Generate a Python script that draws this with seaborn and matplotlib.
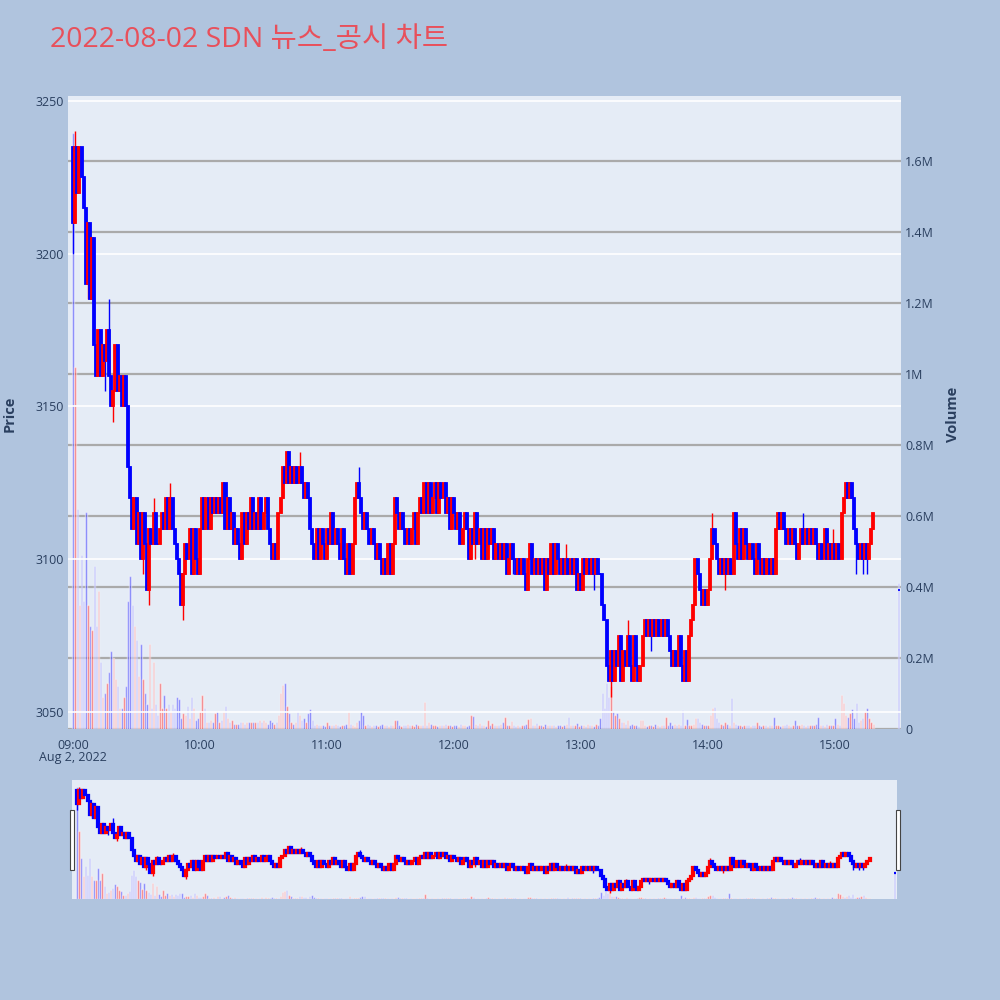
import numpy as np
import pandas as pd
import seaborn as sns
import matplotlib.pyplot as plt
from matplotlib.patches import Rectangle

# minute-by-minute prices, 09:00 = minute 0
first_open = 3235
closes = [
    3210, 3235, 3220, 3235, 3225, 3215, 3190, 3210, 3185, 3205,
    3170, 3160, 3175, 3160, 3170, 3165, 3175, 3160, 3150, 3155,
    3170, 3155, 3160, 3150, 3160, 3150, 3130, 3120, 3110, 3120,
    3105, 3115, 3100, 3115, 3105, 3090, 3110, 3105, 3115, 3105,
    3105, 3110, 3115, 3110, 3120, 3110, 3120, 3110, 3105, 3100,
    3095, 3085, 3095, 3105, 3100, 3110, 3095, 3110, 3100, 3095,
    3110, 3120, 3110, 3120, 3110, 3120, 3115, 3120, 3115, 3120,
    3115, 3125, 3110, 3120, 3110, 3115, 3105, 3110, 3105, 3100,
    3115, 3105, 3115, 3110, 3120, 3110, 3115, 3110, 3120, 3110,
    3115, 3120, 3110, 3105, 3100, 3105, 3100, 3115, 3120, 3130,
    3125, 3135, 3125, 3130, 3125, 3130, 3125, 3130, 3125, 3120,
    3125, 3120, 3110, 3105, 3100, 3110, 3100, 3110, 3105, 3100,
    3110, 3105, 3115, 3105, 3110, 3105, 3100, 3110, 3100, 3095,
    3105, 3095, 3105, 3120, 3125, 3120, 3115, 3110, 3115, 3110,
    3105, 3110, 3105, 3100, 3105, 3100, 3095, 3100, 3095, 3105,
    3095, 3105, 3120, 3115, 3110, 3115, 3110, 3105, 3110, 3105,
    3110, 3115, 3105, 3115, 3120, 3115, 3125, 3115, 3125, 3115,
    3120, 3125, 3115, 3125, 3120, 3125, 3115, 3120, 3110, 3120,
    3115, 3110, 3115, 3105, 3110, 3115, 3110, 3100, 3110, 3105,
    3115, 3105, 3110, 3100, 3110, 3100, 3110, 3105, 3110, 3100,
    3105, 3100, 3105, 3100, 3105, 3095, 3100, 3105, 3100, 3095,
    3100, 3095, 3100, 3095, 3090, 3100, 3105, 3095, 3100, 3095,
    3100, 3095, 3100, 3090, 3100, 3095, 3105, 3095, 3105, 3100,
    3095, 3100, 3095, 3100, 3095, 3100, 3095, 3100, 3090, 3095,
    3090, 3100, 3095, 3100, 3095, 3100, 3095, 3100, 3095, 3095,
    3085, 3080, 3065, 3060, 3070, 3060, 3070, 3065, 3075, 3060,
    3070, 3065, 3075, 3065, 3060, 3075, 3065, 3060, 3065, 3075,
    3080, 3075, 3080, 3075, 3080, 3075, 3080, 3075, 3080, 3075,
    3080, 3075, 3070, 3065, 3070, 3065, 3075, 3065, 3060, 3070,
    3060, 3075, 3080, 3085, 3100, 3095, 3090, 3085, 3090, 3085,
    3090, 3100, 3110, 3105, 3100, 3095, 3100, 3095, 3100, 3095,
    3100, 3095, 3115, 3105, 3100, 3110, 3100, 3110, 3105, 3100,
    3105, 3100, 3095, 3105, 3100, 3095, 3100, 3095, 3100, 3095,
    3100, 3095, 3110, 3115, 3110, 3115, 3110, 3105, 3110, 3105,
    3110, 3105, 3100, 3105, 3110, 3105, 3110, 3105, 3110, 3105,
    3110, 3105, 3100, 3105, 3100, 3110, 3100, 3105, 3100, 3105,
    3100, 3105, 3100, 3115, 3120, 3125, 3120, 3125, 3120, 3110,
    3105, 3100, 3105, 3100, 3105, 3100, 3105, 3110, 3115,
]
# wicks beyond the body: minute -> (high, low)
wicks = {
    0: (3235, 3200), 1: (3240, 3210), 7: (3210, 3185), 9: (3205, 3185),
    15: (3170, 3155), 17: (3185, 3160), 19: (3155, 3145), 33: (3115, 3095),
    36: (3110, 3085), 38: (3120, 3105), 46: (3125, 3110), 52: (3095, 3080),
    107: (3135, 3125), 135: (3130, 3120), 190: (3115, 3100), 208: (3105, 3095),
    233: (3105, 3095), 246: (3100, 3090), 254: (3070, 3055), 262: (3080, 3065),
    273: (3080, 3070), 302: (3115, 3100), 308: (3100, 3090), 345: (3115, 3105),
    359: (3110, 3100), 370: (3110, 3095), 373: (3105, 3095), 375: (3105, 3095),
}
# volume in thousands of shares
volumes_k = [
    1680, 1020, 620, 350, 490, 360, 610, 350, 290, 280,
    460, 290, 390, 190, 90, 100, 130, 160, 220, 200,
    140, 120, 60, 60, 90, 120, 360, 430, 350, 290,
    250, 150, 240, 140, 100, 70, 240, 60, 190, 70,
    40, 130, 60, 95, 60, 70, 50, 70, 60, 90,
    85, 30, 45, 40, 65, 30, 90, 60, 25, 30,
    50, 95, 60, 20, 20, 25, 20, 45, 50, 20,
    25, 50, 65, 30, 20, 25, 15, 15, 15, 20,
    20, 15, 20, 20, 20, 20, 20, 20, 25, 20,
    25, 20, 15, 25, 20, 15, 20, 40, 100, 125,
    130, 65, 45, 20, 15, 20, 50, 40, 25, 30,
    20, 45, 55, 25, 10, 15, 10, 12, 10, 8,
    20, 10, 10, 12, 15, 10, 8, 12, 10, 15,
    50, 15, 10, 8, 20, 25, 50, 40, 10, 15,
    10, 8, 12, 10, 8, 10, 15, 12, 10, 8,
    10, 12, 25, 25, 10, 8, 12, 10, 15, 10,
    10, 8, 15, 10, 12, 10, 77, 10, 20, 15,
    10, 12, 8, 10, 12, 10, 15, 12, 10, 8,
    10, 12, 8, 15, 12, 10, 8, 10, 40, 37,
    15, 10, 16, 12, 10, 8, 25, 12, 16, 10,
    12, 10, 15, 20, 33, 12, 10, 22, 10, 8,
    10, 8, 12, 10, 15, 27, 30, 10, 12, 18,
    10, 12, 8, 15, 10, 10, 12, 10, 8, 12,
    10, 8, 12, 15, 33, 10, 12, 10, 16, 8,
    12, 10, 8, 15, 10, 10, 8, 14, 12, 30,
    100, 60, 130, 90, 120, 50, 40, 44, 30, 20,
    20, 15, 25, 12, 15, 10, 12, 8, 25, 25,
    10, 8, 12, 10, 8, 15, 10, 8, 12, 10,
    35, 12, 20, 10, 15, 12, 15, 10, 53, 10,
    28, 12, 10, 15, 30, 30, 20, 15, 10, 12,
    10, 40, 60, 63, 30, 20, 15, 12, 20, 15,
    12, 87, 20, 15, 10, 12, 8, 10, 12, 10,
    8, 10, 12, 20, 10, 8, 12, 10, 8, 10,
    12, 35, 12, 10, 8, 12, 10, 15, 10, 8,
    10, 26, 12, 10, 15, 10, 8, 12, 10, 12,
    10, 15, 33, 10, 12, 8, 15, 10, 12, 10,
    32, 15, 10, 95, 72, 40, 35, 45, 55, 30,
    72, 20, 25, 30, 50, 58, 32, 20, 15,
]
# closing auction at 15:30
auction_minute = 390
auction_price = 3090
auction_volume_k = 410

tick_minutes = [0, 60, 120, 180, 240, 300, 360]
tick_labels = ['09:00', '10:00', '11:00', '12:00', '13:00', '14:00', '15:00']
price_ticks = [3050, 3100, 3150, 3200, 3250]
vol_ticks = [0, 0.2e6, 0.4e6, 0.6e6, 0.8e6, 1.0e6, 1.2e6, 1.4e6, 1.6e6]
vol_labels = ['0', '0.2M', '0.4M', '0.6M', '0.8M', '1M', '1.2M', '1.4M', '1.6M']

opens = [first_open] + closes[:-1]
df = pd.DataFrame({'minute': np.arange(len(closes)), 'open': opens, 'close': closes,
                   'volume': np.array(volumes_k) * 1000})
df['high'] = df[['open', 'close']].max(axis=1)
df['low'] = df[['open', 'close']].min(axis=1)
for m, (hi, lo) in wicks.items():
    df.loc[m, 'high'] = max(df.loc[m, 'high'], hi)
    df.loc[m, 'low'] = min(df.loc[m, 'low'], lo)
df.loc[len(df)] = [auction_minute, auction_price, auction_price, auction_volume_k * 1000,
                   auction_price, auction_price]
df['direction'] = np.where(df['close'] > df['open'], 'up', 'down')

BG = '#B0C4DE'
PLOT_BG = '#E5ECF6'
TXT = '#2a3f5f'
palette = {'up': 'red', 'down': 'blue'}

sns.set_theme(style='white')
plt.rcParams['font.family'] = ['Open Sans', 'Noto Sans CJK KR', 'DejaVu Sans']


def draw_candles(ax, data, width, lw):
    colors = data['direction'].map(palette)
    ax.vlines(data['minute'], data['low'], data['high'], colors=colors, linewidth=1.0, zorder=3)
    ax.bar(data['minute'], (data['close'] - data['open']).abs(),
           bottom=data[['open', 'close']].min(axis=1), width=width,
           color=colors, edgecolor=colors, linewidth=lw, zorder=3)


def draw_volume(ax, data):
    sns.barplot(data=data, x='minute', y='volume', hue='direction', palette=palette,
                native_scale=True, dodge=False, width=0.7, alpha=0.5, saturation=1,
                errorbar=None, legend=False, ax=ax)


fig = plt.figure(figsize=(10, 10), dpi=100, facecolor=BG)

# main chart
ax_v = fig.add_axes([0.068, 0.271, 0.833, 0.633])
ax_v.set_facecolor(PLOT_BG)
draw_volume(ax_v, df)
ax_v.set_ylim(0, 1.783e6)
ax_v.set_axisbelow(True)
ax_v.grid(axis='y', color='#AAAAAA', linewidth=1.6)
ax_v.grid(axis='x', visible=False)
ax_v.set_xlabel('')
ax_v.set_ylabel('')

ax_p = ax_v.twinx()
ax_p.patch.set_visible(False)
draw_candles(ax_p, df, 0.95, 1.3)
ax_p.yaxis.tick_left()
ax_p.set_ylim(3044.4, 3251.6)
ax_p.set_yticks(price_ticks)
ax_p.set_axisbelow(True)
ax_p.grid(axis='y', color='white', linewidth=1.2)
ax_p.set_ylabel('')

ax_v.yaxis.tick_right()
ax_v.set_yticks(vol_ticks)
ax_v.set_yticklabels(vol_labels)
ax_v.set_xlim(-2.4, 391.1)
ax_v.set_xticks(tick_minutes)
ax_v.set_xticklabels(tick_labels)

for a in (ax_v, ax_p):
    for s in a.spines.values():
        s.set_visible(False)
    a.tick_params(length=0, labelsize=9, labelcolor=TXT)
ax_v.tick_params(axis='y', pad=3)
ax_p.tick_params(axis='y', pad=3)
ax_v.tick_params(axis='x', pad=7)

fig.text(0.073, 0.242, 'Aug 2, 2022', ha='center', va='center', fontsize=9, color=TXT)
fig.text(0.010, 0.586, 'Price', rotation=90, ha='center', va='center',
         fontsize=10.5, fontweight='bold', color=TXT)
fig.text(0.953, 0.586, 'Volume', rotation=90, ha='center', va='center',
         fontsize=10.5, fontweight='bold', color=TXT)
fig.text(0.05, 0.96, '2022-08-02 SDN 뉴스_공시 차트', ha='left', va='center',
         fontsize=20.5, color='#E8505B', family=['Open Sans', 'Noto Sans CJK KR'])

# range slider
sl_v = fig.add_axes([0.072, 0.101, 0.825, 0.119])
sl_v.set_facecolor(PLOT_BG)
draw_volume(sl_v, df)
sl_v.set_ylim(0, 1.783e6)
sl_p = sl_v.twinx()
sl_p.patch.set_visible(False)
draw_candles(sl_p, df, 0.95, 1.6)
sl_p.set_ylim(3044.4, 3251.6)
sl_v.set_xlim(-2.4, 391.1)
for a in (sl_v, sl_p):
    a.set_xticks([])
    a.set_yticks([])
    a.set_xlabel('')
    a.set_ylabel('')
    for s in a.spines.values():
        s.set_visible(False)

for x0 in (0.0695, 0.8955):
    fig.patches.append(Rectangle((x0, 0.130), 0.004, 0.060, transform=fig.transFigure,
                                 facecolor='white', edgecolor='#444444', linewidth=0.8))

fig.savefig('out.png', dpi=100, facecolor=BG)
